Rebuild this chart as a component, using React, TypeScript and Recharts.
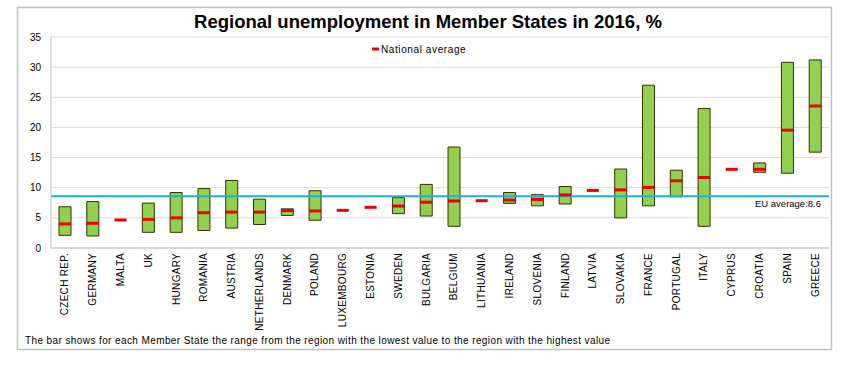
import React from 'react';
import { ComposedChart, Bar, Scatter, XAxis, YAxis, CartesianGrid, ReferenceLine } from 'recharts';

const countries = [
    'CZECH REP.', 'GERMANY', 'MALTA', 'UK', 'HUNGARY', 'ROMANIA', 'AUSTRIA', 'NETHERLANDS',
    'DENMARK', 'POLAND', 'LUXEMBOURG', 'ESTONIA', 'SWEDEN', 'BULGARIA', 'BELGIUM', 'LITHUANIA',
    'IRELAND', 'SLOVENIA', 'FINLAND', 'LATVIA', 'SLOVAKIA', 'FRANCE', 'PORTUGAL', 'ITALY',
    'CYPRUS', 'CROATIA', 'SPAIN', 'GREECE',
];

// lowest region (null = single region, no bar)
const lowest = [
    2.1, 2.0, null, 2.6, 2.6, 2.9, 3.3, 3.9,
    5.4, 4.6, null, null, 5.7, 5.3, 3.6, null,
    7.4, 7.0, 7.3, null, 5.0, 7.0, 8.5, 3.6,
    null, 12.55, 12.4, 15.9,
];

// highest region
const highest = [
    6.85, 7.7, null, 7.45, 9.2, 9.85, 11.2, 8.1,
    6.5, 9.5, null, null, 8.35, 10.55, 16.75, null,
    9.2, 8.85, 10.2, null, 13.1, 27.0, 12.9, 23.15,
    null, 14.1, 30.8, 31.2,
];

const nationalAverage = [
    4.0, 4.1, 4.65, 4.75, 5.0, 5.85, 5.95, 5.95,
    6.2, 6.15, 6.25, 6.75, 6.95, 7.6, 7.8, 7.85,
    7.95, 8.05, 8.8, 9.55, 9.65, 10.05, 11.15, 11.7,
    13.05, 13.05, 19.55, 23.55,
];

const euAverage = 8.6;
const yTicks = [0, 5, 10, 15, 20, 25, 30, 35];

const data = countries.map((name, i) => ({
    name,
    base: lowest[i],
    range: lowest[i] != null && highest[i] != null ? (highest[i] as number) - (lowest[i] as number) : null,
    avg: nationalAverage[i],
}));

const FONT = '"Liberation Sans", Arial, sans-serif';

function CountryTick(props: any) {
    const { x, y, payload } = props;
    return (
        <text
            transform={`translate(${x + 3.5},${y - 3}) rotate(-90)`}
            textAnchor="end"
            fontSize={10}
            letterSpacing={0.3}
            fontFamily={FONT}
            fill="#000"
        >
            {payload.value}
        </text>
    );
}

function AvgMarker(props: any) {
    const { cx, cy } = props;
    if (cx == null || cy == null) return null;
    return <rect x={cx - 6} y={cy - 1.5} width={12} height={3} fill="#ee0000" />;
}

export default function App() {
    return (
        <div style={{ position: 'absolute', left: 0, top: 0, width: 850, height: 368, background: '#fff' }}>
            <ComposedChart
                width={850}
                height={368}
                data={data}
                margin={{ top: 37, right: 21, bottom: 18, left: 17 }}
                barCategoryGap={0}
            >
                <CartesianGrid vertical={false} stroke="#d9d9d9" />
                <XAxis
                    dataKey="name"
                    interval={0}
                    height={102}
                    tickLine={false}
                    axisLine={{ stroke: '#bfbfbf' }}
                    tick={<CountryTick />}
                />
                <YAxis
                    width={34}
                    domain={[0, 35]}
                    ticks={yTicks}
                    tickLine={false}
                    tickSize={8}
                    tickMargin={2}
                    axisLine={{ stroke: '#bfbfbf' }}
                    tick={{ fontSize: 10, fill: '#000', fontFamily: FONT }}
                />
                <ReferenceLine
                    y={euAverage}
                    stroke="#21b0dc"
                    strokeWidth={2}
                    label={(p: any) => (
                        <text
                            x={p.viewBox.x + p.viewBox.width - 8}
                            y={p.viewBox.y + 11}
                            textAnchor="end"
                            fontSize={9.5}
                            fontFamily={FONT}
                            fill="#000"
                        >
                            {`EU average:${euAverage}`}
                        </text>
                    )}
                />
                <Bar dataKey="base" stackId="r" fill="transparent" barSize={12} isAnimationActive={false} />
                <Bar
                    dataKey="range"
                    stackId="r"
                    fill="#92d050"
                    stroke="#333300"
                    strokeWidth={1}
                    barSize={12}
                    isAnimationActive={false}
                />
                <Scatter dataKey="avg" shape={<AvgMarker />} isAnimationActive={false} />
            </ComposedChart>
            <svg
                width={850}
                height={368}
                style={{ position: 'absolute', left: 0, top: 0, pointerEvents: 'none' }}
            >
                <rect x={17.5} y={7.5} width={814} height={342} fill="none" stroke="#c0c0c0" strokeWidth={1.5} />
                <text x={428} y={28} textAnchor="middle" fontSize={18.5} fontWeight="bold" fontFamily={FONT} fill="#000">
                    Regional unemployment in Member States in 2016, %
                </text>
                <rect x={372} y={47.5} width={7} height={3} fill="#ee0000" />
                <text x={381} y={53} fontSize={10} letterSpacing={0.6} fontFamily={FONT} fill="#000">
                    National average
                </text>
                <text x={25} y={344} fontSize={10} letterSpacing={0.4} fontFamily={FONT} fill="#000">
                    The bar shows for each Member State the range from the region with the lowest value to the region with the highest value
                </text>
            </svg>
        </div>
    );
}
